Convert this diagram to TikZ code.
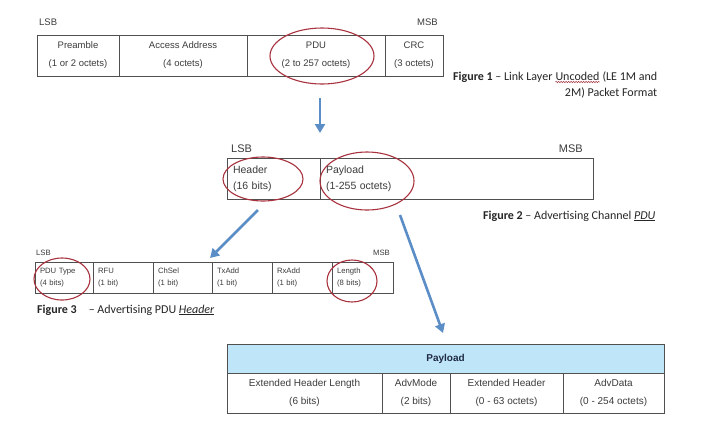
\documentclass[tikz,border=0pt]{standalone}
\usepackage{fontspec}
\setmainfont{Liberation Sans}
\newfontfamily\capfont{Carlito}
\usetikzlibrary{arrows.meta,shapes.geometric,decorations.pathmorphing}
\definecolor{txtgray}{HTML}{3C3C3C}
\definecolor{linegray}{HTML}{505050}
\definecolor{ringred}{HTML}{A8323E}
\definecolor{arrowblue}{HTML}{5B8DC6}
\definecolor{payblue}{HTML}{BFE6F8}
\definecolor{navy}{HTML}{1F2A44}
\begin{document}
\begin{tikzpicture}[x=1pt,y=-1pt,
    cell/.style={draw=linegray, line width=0.8pt, outer sep=0pt, inner sep=0pt, minimum height=41pt, align=center, text=txtgray, font=\fontsize{9.5}{18}\selectfont},
    halfcell/.style={draw=linegray, line width=0.8pt, outer sep=0pt, inner xsep=6pt, inner ysep=0pt, minimum height=41pt, align=left, text=txtgray, font=\fontsize{10.5}{16}\selectfont},
    bitcell/.style={draw=linegray, line width=0.7pt, outer sep=0pt, inner xsep=5pt, inner ysep=0pt, minimum height=31pt, align=left, text=txtgray, font=\fontsize{7.7}{12}\selectfont},
    paycell/.style={draw=linegray, line width=0.8pt, outer sep=0pt, inner sep=0pt, minimum height=40pt, align=center, text=txtgray, font=\fontsize{10}{18}\selectfont},
    lbl/.style={inner sep=0pt, text=txtgray},
    ring/.style={draw=ringred, line width=1.1pt, ellipse, inner sep=0pt},
    capt/.style={inner sep=0pt, text=black!85, font=\capfont\fontsize{12}{14}\selectfont},
    bluearrow/.style={draw=arrowblue, line width=2.6pt, -{Triangle[length=9pt,width=10pt]}}]
    \fill[white] (0,0) rectangle (703,421);
    \useasboundingbox (0,0) rectangle (703,421);

    \node[lbl, anchor=west, font=\fontsize{9.5}{11}\selectfont] (lsb1) at (39,22) {LSB};
    \node[lbl, anchor=east, font=\fontsize{9.5}{11}\selectfont] (msb1) at (438,22) {MSB};
    \node[cell, minimum width=82pt] (pre) at (78,55.5) {Preamble\\(1 or 2 octets)};
    \node[cell, minimum width=128pt] (addr) at (183,55.5) {Access Address\\(4 octets)};
    \node[cell, minimum width=138pt] (pdu) at (316,55.5) {PDU\\(2 to 257 octets)};
    \node[cell, minimum width=58pt] (crc) at (414,55.5) {CRC\\(3 octets)};
    \node[ring, minimum width=104pt, minimum height=56pt] (pduring) at (322,56) {};
    \node[capt, anchor=base west] (cap1a) at (453,80) {\textbf{Figure 1} \textendash{} Link Layer};
    \node[capt, anchor=base west] (cap1u) at ([xshift=2.7pt]cap1a.base east) {Uncoded};
    \node[capt, anchor=base west] (cap1c) at ([xshift=2.7pt]cap1u.base east) {(LE 1M and};
    \node[capt, anchor=base east] (cap1b) at (cap1c.base east |- 0,96) {2M) Packet Format};
    \draw[ringred, line width=0.5pt, decorate, decoration={snake, amplitude=0.7pt, segment length=2.5pt}]
        ([yshift=-2pt]cap1u.base west) -- ([yshift=-2pt]cap1u.base east);

    \node[lbl, anchor=west, font=\fontsize{11}{13}\selectfont] (lsb2) at (231,149) {LSB};
    \node[lbl, anchor=east, font=\fontsize{11}{13}\selectfont] (msb2) at (583,149) {MSB};
    \node[halfcell, minimum width=93pt, text width=81pt] (hdr) at (273.5,178.5) {Header\\(16 bits)};
    \node[halfcell, minimum width=273pt, text width=261pt] (pay) at (456.5,178.5) {Payload\\(1-255 octets)};
    \node[ring, minimum width=80pt, minimum height=44pt] (hdrring) at (263,179) {};
    \node[ring, minimum width=94pt, minimum height=58pt] (payring) at (367,181) {};
    \node[capt, anchor=base west] (cap2) at (483,219) {\textbf{Figure 2} \textendash{} Advertising Channel \underline{\textit{PDU}}};

    \node[lbl, anchor=west, font=\fontsize{7.7}{9}\selectfont] (lsb3) at (36,253) {LSB};
    \node[lbl, anchor=east, font=\fontsize{7.7}{9}\selectfont] (msb3) at (390,253) {MSB};
    \node[bitcell, minimum width=58pt, text width=48pt] (ptype) at (64,277.5) {PDU Type\\(4 bits)};
    \node[bitcell, minimum width=60pt, text width=50pt] (rfu) at (123,277.5) {RFU\\(1 bit)};
    \node[bitcell, minimum width=59pt, text width=49pt] (chsel) at (182.5,277.5) {ChSel\\(1 bit)};
    \node[bitcell, minimum width=60pt, text width=50pt] (txadd) at (242,277.5) {TxAdd\\(1 bit)};
    \node[bitcell, minimum width=60pt, text width=50pt] (rxadd) at (302,277.5) {RxAdd\\(1 bit)};
    \node[bitcell, minimum width=61pt, text width=51pt] (len) at (362.5,277.5) {Length\\(8 bits)};
    \node[ring, minimum width=56pt, minimum height=42pt] (typering) at (62,279) {};
    \node[ring, minimum width=50pt, minimum height=42pt] (lenring) at (352,281) {};
    \node[capt, anchor=base west] (cap3) at (37,313) {\textbf{Figure 3}\quad\textendash{} Advertising PDU \underline{\textit{Header}}};

    \node[paycell, fill=payblue, minimum width=437pt, minimum height=29pt, text=navy, font=\bfseries\fontsize{10}{12}\selectfont] (payhead) at (445.5,358.5) {Payload};
    \node[paycell, minimum width=155pt] (ehl) at (304.5,393) {Extended Header Length\\(6 bits)};
    \node[paycell, minimum width=68pt] (advmode) at (416,393) {AdvMode\\(2 bits)};
    \node[paycell, minimum width=113pt] (exthdr) at (506.5,393) {Extended Header\\(0 - 63 octets)};
    \node[paycell, minimum width=101pt] (advdata) at (613.5,393) {AdvData\\(0 - 254 octets)};

    \coordinate (a1from) at (320,98);
    \coordinate (a1to) at (320,133);
    \coordinate (a2from) at (258,210);
    \coordinate (a2to) at (210,258);
    \coordinate (a3from) at (400,215);
    \coordinate (a3to) at (443,333);
    \draw[bluearrow] (a1from) -- (a1to);
    \draw[bluearrow] (a2from) -- (a2to);
    \draw[bluearrow] (a3from) -- (a3to);
\end{tikzpicture}
\end{document}
